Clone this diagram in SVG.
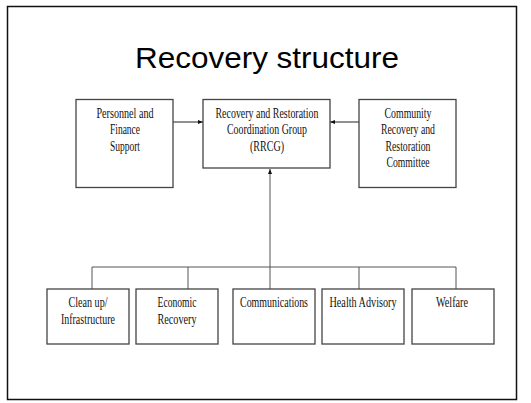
<svg xmlns="http://www.w3.org/2000/svg" width="531" height="403" viewBox="0 0 531 403">
  <style>
    .box { fill: #ffffff; stroke: #444444; stroke-width: 1.3; }
    .lbl { font-family: "Liberation Serif", "Times New Roman", serif; font-size: 14px; fill: #111111; text-anchor: middle; }
    .wire { fill: none; stroke: #555555; stroke-width: 1; }
    .arr { fill: none; stroke: #222222; stroke-width: 1; }
  </style>
  <defs>
    <marker id="head" viewBox="0 0 10 10" refX="10" refY="5" markerWidth="5" markerHeight="5" orient="auto">
      <path d="M0,1 L10,5 L0,9 z" fill="#111111"/>
    </marker>
  </defs>
  <rect x="0" y="0" width="531" height="403" fill="#ffffff"/>
  <!-- slide frame -->
  <rect x="7.5" y="6.5" width="509" height="393" fill="none" stroke="#111111" stroke-width="1.5"/>
  <text x="267" y="68" font-family="Liberation Sans, Arial, sans-serif" font-size="30" text-anchor="middle" fill="#000000" textLength="264" lengthAdjust="spacingAndGlyphs">Recovery structure</text>

  <!-- connectors -->
  <g id="connectors">
    <line class="arr" x1="173" y1="122" x2="203" y2="122" marker-end="url(#head)"/>
    <line class="arr" x1="359" y1="122" x2="330" y2="122" marker-end="url(#head)"/>
    <line class="wire" x1="270" y1="289" x2="270" y2="169" marker-end="url(#head)"/>
    <polyline class="wire" points="92,289 92,267 456,267 456,289"/>
    <line class="wire" x1="188" y1="267" x2="188" y2="289"/>
    <line class="wire" x1="359" y1="267" x2="359" y2="289"/>
  </g>

  <g id="personnel">
    <rect class="box" x="76" y="99.5" width="97" height="88"/>
    <text class="lbl" x="125" y="118" textLength="57" lengthAdjust="spacingAndGlyphs">Personnel and</text>
    <text class="lbl" x="125" y="134" textLength="30" lengthAdjust="spacingAndGlyphs">Finance</text>
    <text class="lbl" x="125" y="151" textLength="30" lengthAdjust="spacingAndGlyphs">Support</text>
  </g>

  <g id="rrcg">
    <rect class="box" x="203" y="99.5" width="127" height="68.5"/>
    <text class="lbl" x="267" y="118" textLength="103" lengthAdjust="spacingAndGlyphs">Recovery and Restoration</text>
    <text class="lbl" x="267" y="134" textLength="80" lengthAdjust="spacingAndGlyphs">Coordination Group</text>
    <text class="lbl" x="267" y="151" textLength="34" lengthAdjust="spacingAndGlyphs">(RRCG)</text>
  </g>

  <g id="community">
    <rect class="box" x="359" y="99.5" width="97" height="88"/>
    <text class="lbl" x="408" y="118" textLength="47" lengthAdjust="spacingAndGlyphs">Community</text>
    <text class="lbl" x="408" y="134" textLength="54" lengthAdjust="spacingAndGlyphs">Recovery and</text>
    <text class="lbl" x="408" y="151" textLength="45" lengthAdjust="spacingAndGlyphs">Restoration</text>
    <text class="lbl" x="408" y="167" textLength="43" lengthAdjust="spacingAndGlyphs">Committee</text>
  </g>

  <g id="cleanup">
    <rect class="box" x="47" y="289" width="82" height="55"/>
    <text class="lbl" x="88" y="307" textLength="39" lengthAdjust="spacingAndGlyphs">Clean up/</text>
    <text class="lbl" x="88" y="324" textLength="54" lengthAdjust="spacingAndGlyphs">Infrastructure</text>
  </g>

  <g id="economic">
    <rect class="box" x="136" y="289" width="82" height="55"/>
    <text class="lbl" x="177" y="307" textLength="39" lengthAdjust="spacingAndGlyphs">Economic</text>
    <text class="lbl" x="177" y="324" textLength="39" lengthAdjust="spacingAndGlyphs">Recovery</text>
  </g>

  <g id="communications">
    <rect class="box" x="233" y="289" width="82" height="55"/>
    <text class="lbl" x="274" y="307" textLength="68" lengthAdjust="spacingAndGlyphs">Communications</text>
  </g>

  <g id="health">
    <rect class="box" x="322" y="289" width="82" height="55"/>
    <text class="lbl" x="363" y="307" textLength="67" lengthAdjust="spacingAndGlyphs">Health Advisory</text>
  </g>

  <g id="welfare">
    <rect class="box" x="412" y="289" width="82" height="55"/>
    <text class="lbl" x="452" y="307" textLength="32" lengthAdjust="spacingAndGlyphs">Welfare</text>
  </g>
</svg>
